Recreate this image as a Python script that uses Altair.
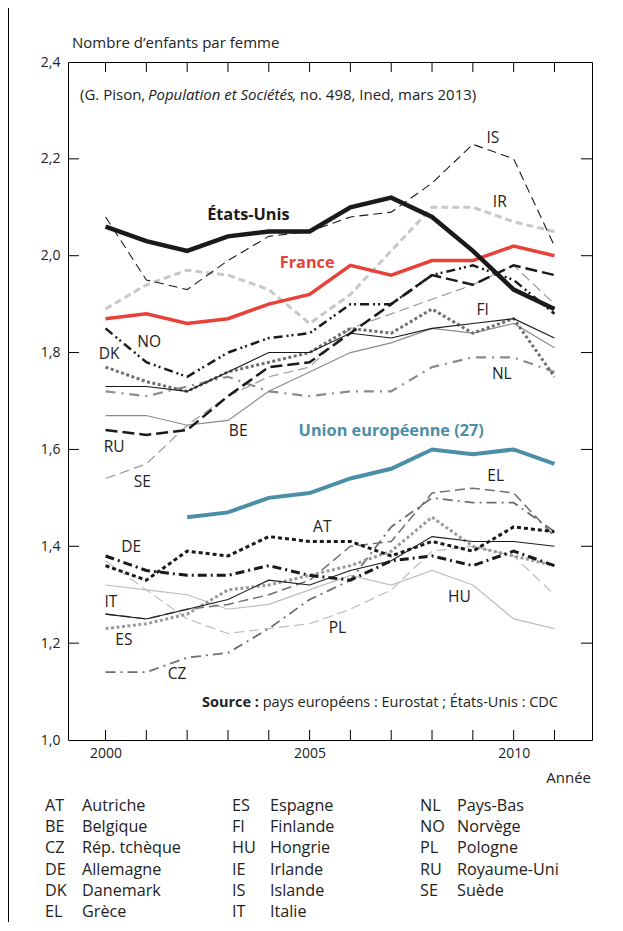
import altair as alt
import pandas as pd

FONT = "Open Sans"

years = list(range(2000, 2012))

# Total fertility rate (children per woman)
US = [2.06, 2.03, 2.01, 2.04, 2.05, 2.05, 2.10, 2.12, 2.08, 2.01, 1.93, 1.89]
FR = [1.87, 1.88, 1.86, 1.87, 1.90, 1.92, 1.98, 1.96, 1.99, 1.99, 2.02, 2.00]
EU = [None, None, 1.46, 1.47, 1.50, 1.51, 1.54, 1.56, 1.60, 1.59, 1.60, 1.57]
IS = [2.08, 1.95, 1.93, 1.99, 2.04, 2.05, 2.08, 2.09, 2.15, 2.23, 2.20, 2.02]
IE = [1.89, 1.94, 1.97, 1.96, 1.93, 1.86, 1.92, 2.01, 2.10, 2.10, 2.07, 2.05]
NO = [1.85, 1.78, 1.75, 1.80, 1.83, 1.84, 1.90, 1.90, 1.96, 1.98, 1.95, 1.88]
RU = [1.64, 1.63, 1.64, 1.71, 1.77, 1.78, 1.84, 1.90, 1.96, 1.94, 1.98, 1.96]
FI = [1.73, 1.73, 1.72, 1.76, 1.80, 1.80, 1.84, 1.83, 1.85, 1.86, 1.87, 1.83]
BE = [1.67, 1.67, 1.65, 1.66, 1.72, 1.76, 1.80, 1.82, 1.85, 1.84, 1.86, 1.81]
SE = [1.54, 1.57, 1.65, 1.71, 1.75, 1.77, 1.85, 1.88, 1.91, 1.94, 1.98, 1.90]
DK = [1.77, 1.74, 1.72, 1.76, 1.78, 1.80, 1.85, 1.84, 1.89, 1.84, 1.87, 1.75]
NL = [1.72, 1.71, 1.73, 1.75, 1.72, 1.71, 1.72, 1.72, 1.77, 1.79, 1.79, 1.76]
AT = [1.36, 1.33, 1.39, 1.38, 1.42, 1.41, 1.41, 1.38, 1.41, 1.39, 1.44, 1.43]
DE = [1.38, 1.35, 1.34, 1.34, 1.36, 1.34, 1.33, 1.37, 1.38, 1.36, 1.39, 1.36]
IT = [1.26, 1.25, 1.27, 1.29, 1.33, 1.32, 1.35, 1.37, 1.42, 1.41, 1.41, 1.40]
ES = [1.23, 1.24, 1.26, 1.31, 1.32, 1.34, 1.36, 1.39, 1.46, 1.40, 1.38, 1.36]
HU = [1.32, 1.31, 1.30, 1.27, 1.28, 1.31, 1.34, 1.32, 1.35, 1.32, 1.25, 1.23]
PL = [1.37, 1.31, 1.25, 1.22, 1.23, 1.24, 1.27, 1.31, 1.39, 1.40, 1.38, 1.30]
CZ = [1.14, 1.14, 1.17, 1.18, 1.23, 1.29, 1.33, 1.44, 1.50, 1.49, 1.49, 1.43]
EL = [1.26, 1.25, 1.27, 1.28, 1.30, 1.33, 1.40, 1.41, 1.51, 1.52, 1.51, 1.42]

series = {"US": US, "FR": FR, "EU": EU, "IS": IS, "IE": IE, "NO": NO, "RU": RU,
          "FI": FI, "BE": BE, "SE": SE, "DK": DK, "NL": NL, "AT": AT, "DE": DE,
          "IT": IT, "ES": ES, "HU": HU, "PL": PL, "CZ": CZ, "EL": EL}

# in-chart labels: text, year, value
lab_text = ["IS", "IR", "FI", "NL", "EL", "HU", "PL", "CZ", "ES", "IT", "DE", "AT",
            "BE", "SE", "RU", "DK", "NO"]
lab_year = [2009.49, 2009.66, 2009.24, 2009.71, 2009.56, 2008.67, 2005.68, 2001.75,
            2000.45, 2000.13, 2000.63, 2005.31, 2003.25, 2000.90, 2000.21, 2000.09, 2001.07]
lab_val = [2.243, 2.111, 1.888, 1.756, 1.545, 1.295, 1.231, 1.136,
           1.206, 1.285, 1.399, 1.440, 1.638, 1.533, 1.605, 1.797, 1.822]

big_text = ["États-Unis", "France", "Union européenne (27)"]
big_year = [2003.50, 2004.94, 2007.00]
big_val = [2.084, 1.985, 1.638]
big_color = ["#1a1a1a", "#e8413a", "#4b8ea7"]

leg_codes = ["AT", "BE", "CZ", "DE", "DK", "EL", "ES", "FI", "HU", "IE", "IS", "IT",
             "NL", "NO", "PL", "RU", "SE"]
leg_names = ["Autriche", "Belgique", "Rép. tchèque", "Allemagne", "Danemark", "Grèce",
             "Espagne", "Finlande", "Hongrie", "Irlande", "Islande", "Italie",
             "Pays-Bas", "Norvège", "Pologne", "Royaume-Uni", "Suède"]

y_ticks = [1.0, 1.2, 1.4, 1.6, 1.8, 2.0, 2.2, 2.4]

styles = {
    "HU": ("#bdbdbd", 1.2, None),
    "PL": ("#bdbdbd", 1.2, [10, 5]),
    "SE": ("#9a9a9a", 1.2, [10, 5]),
    "BE": ("#8c8c8c", 1.2, None),
    "EL": ("#6e6e6e", 1.5, [10, 5]),
    "CZ": ("#6e6e6e", 1.8, [10, 5, 2, 5]),
    "NL": ("#8c8c8c", 2.2, [10, 6, 2, 6]),
    "ES": ("#9a9a9a", 3, [3, 2.5]),
    "DK": ("#707070", 3, [3, 2.5]),
    "IE": ("#c8c8c8", 3, [7, 4]),
    "IS": ("#1a1a1a", 1.1, [9, 5]),
    "FI": ("#1a1a1a", 1.1, None),
    "IT": ("#1a1a1a", 1.1, None),
    "AT": ("#1a1a1a", 3, [4, 3]),
    "DE": ("#1a1a1a", 3, [9, 4, 2, 4]),
    "NO": ("#1a1a1a", 2.5, [9, 4, 2, 3, 2, 4]),
    "RU": ("#1a1a1a", 2.5, [12, 5]),
    "EU": ("#4b8ea7", 4, None),
    "FR": ("#e8413a", 3.5, None),
    "US": ("#1a1a1a", 4.5, None),
}

W, H = 524, 678
xscale = alt.Scale(domain=[1999.08, 2011.92], nice=False, zero=False)
yscale = alt.Scale(domain=[1.0, 2.4], nice=False, zero=False)

one = pd.DataFrame({"a": [0]})

layers = []

# axes layer (labels only)
axis_df = pd.DataFrame({"year": [2000], "v": [1.0]})
layers.append(
    alt.Chart(axis_df).mark_point(opacity=0).encode(
        x=alt.X("year:Q", scale=xscale,
                axis=alt.Axis(values=[2000, 2005, 2010], format="d", ticks=False, domain=False,
                              grid=False, title=None, labelFont=FONT, labelFontSize=14,
                              labelColor="#222", labelPadding=6)),
        y=alt.Y("v:Q", scale=yscale,
                axis=alt.Axis(values=y_ticks, ticks=False, domain=False, grid=False, title=None,
                              labelExpr="replace(format(datum.value, '.1f'), '.', ',')",
                              labelFont=FONT, labelFontSize=14, labelColor="#222",
                              labelPadding=8)),
    )
)

# inward ticks
yr_df = pd.DataFrame({"year": years})
layers.append(alt.Chart(yr_df).mark_rule(color="black", strokeWidth=1).encode(
    x="year:Q", y=alt.value(0), y2=alt.value(10)))
layers.append(alt.Chart(yr_df).mark_rule(color="black", strokeWidth=1).encode(
    x="year:Q", y=alt.value(H), y2=alt.value(H - 10)))
yt_df = pd.DataFrame({"v": y_ticks[1:-1]})
layers.append(alt.Chart(yt_df).mark_rule(color="black", strokeWidth=1).encode(
    y="v:Q", x=alt.value(0), x2=alt.value(11)))
layers.append(alt.Chart(yt_df).mark_rule(color="black", strokeWidth=1).encode(
    y="v:Q", x=alt.value(W), x2=alt.value(W - 11)))

# series lines
for code, (col, sw, dash) in styles.items():
    vals = series[code]
    df = pd.DataFrame({"year": years, "v": vals}).dropna()
    kw = dict(color=col, strokeWidth=sw, strokeJoin="miter", clip=True)
    if dash is not None:
        kw["strokeDash"] = dash
    layers.append(alt.Chart(df).mark_line(**kw).encode(x="year:Q", y="v:Q"))

# in-chart labels
lab_df = pd.DataFrame({"t": lab_text, "year": lab_year, "v": lab_val})
layers.append(alt.Chart(lab_df).mark_text(font=FONT, fontSize=15.5, color="#222").encode(
    x="year:Q", y="v:Q", text="t:N"))
big_df = pd.DataFrame({"t": big_text, "year": big_year, "v": big_val, "c": big_color})
layers.append(alt.Chart(big_df).mark_text(font=FONT, fontSize=16.3, fontWeight="bold").encode(
    x="year:Q", y="v:Q", text="t:N", color=alt.Color("c:N", scale=None, legend=None)))

# free texts
def txt(s, x, y, align="left", **kw):
    return alt.Chart(one).mark_text(font=FONT, align=align, baseline="middle",
                                    color="#222", **kw).encode(
        x=alt.value(x), y=alt.value(y), text=alt.value(s))

layers.append(txt("Nombre d\u2019enfants par femme", 4, -19, fontSize=15))
layers.append(txt("Année", 523, 716, align="right", fontSize=15))
layers.append(txt("(G. Pison,", 12, 33, fontSize=15))
layers.append(txt("Population et Sociétés", 80, 33, fontSize=15, fontStyle="italic"))
layers.append(txt(", no. 498, Ined, mars 2013)", 224, 33, fontSize=15))
layers.append(txt("Source :", 134, 641, fontSize=14.5, fontWeight="bold"))
layers.append(txt("pays européens : Eurostat ; États-Unis : CDC", 490, 641, align="right",
                  fontSize=14.5))

# legend
code_x = [-23, 164, 352]
name_x = [14, 202, 389]
rows = []
for i, (c, n) in enumerate(zip(leg_codes, leg_names)):
    col, row = divmod(i, 6)
    rows.append({"t": c, "px": code_x[col], "py": 744 + 21.2 * row})
    rows.append({"t": n, "px": name_x[col], "py": 744 + 21.2 * row})
leg_df = pd.DataFrame(rows)
layers.append(alt.Chart(leg_df).mark_text(font=FONT, fontSize=16.2, align="left",
                                          baseline="middle", color="#222").encode(
    x=alt.X("px:Q", scale=None, axis=None), y=alt.Y("py:Q", scale=None, axis=None),
    text="t:N"))

# outer left border line
layers.append(alt.Chart(one).mark_rule(color="black", strokeWidth=1).encode(
    x=alt.value(-59.5), y=alt.value(-54), y2=alt.value(860)))

chart = alt.layer(*layers).properties(
    width=W, height=H,
    autosize=alt.AutoSizeParams(type="none"),
    padding={"left": 60, "top": 54, "right": 20, "bottom": 183},
    background="white",
).configure_view(stroke="black", strokeWidth=1)

chart.save("out.html", embed_options={"renderer": "svg", "actions": False})
